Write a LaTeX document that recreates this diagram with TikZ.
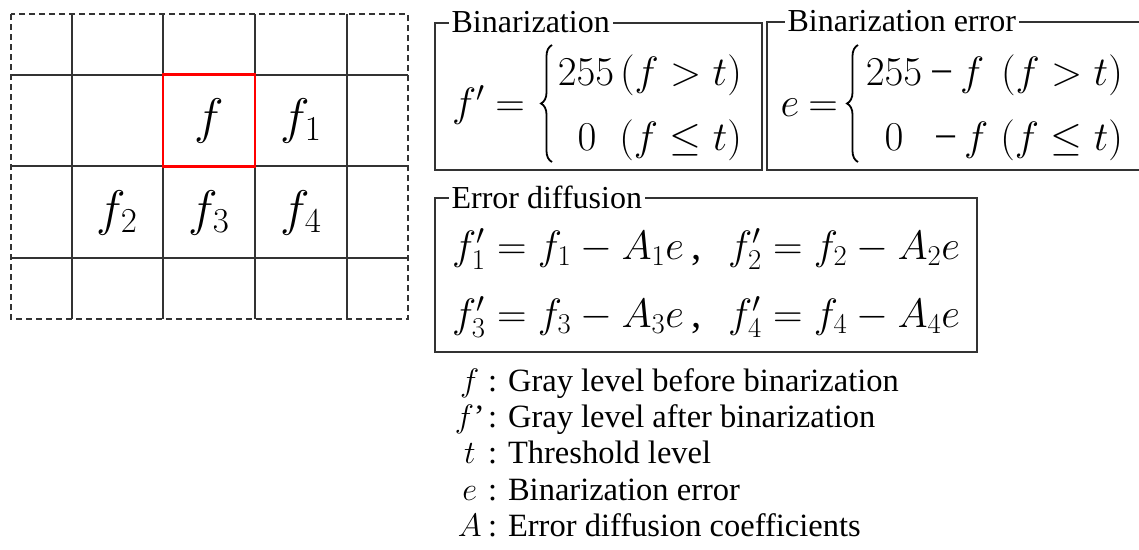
\RequirePackage{fix-cm}
\documentclass[tikz,border=0pt]{standalone}
\usepackage[no-math]{fontspec}
\setmainfont{Liberation Serif}
\usepackage{tikz}
\usetikzlibrary{positioning, decorations.pathreplacing}
\tikzstyle{frame} = [rectangle, draw=black!80, line width=1.3pt, inner sep=0pt]
\tikzstyle{header} = [fill=white, inner xsep=3pt, inner ysep=1pt, anchor=west, font=\fontsize{32}{38}\selectfont]
\tikzstyle{eqn} = [inner sep=0pt, anchor=base, font=\fontsize{41}{48}\selectfont]
\tikzstyle{curly} = [decorate, decoration={brace, amplitude=11pt}, line width=1.8pt]
\tikzstyle{cell} = [rectangle, minimum size=92pt, inner sep=0pt, outer sep=0pt, font=\fontsize{50}{58}\selectfont]
\tikzstyle{gridline} = [black!80, line width=1.3pt]
\tikzstyle{legend} = [inner sep=0pt, text height=25pt, text depth=11pt, font=\fontsize{32.5}{38}\selectfont]
\tikzstyle{legsym} = [legend, minimum width=36pt, align=center]

\begin{document}
\begin{tikzpicture}[x=1pt, y=-1pt]
    \useasboundingbox (0,0) rectangle (1139,549);
    % pixel grid
    \foreach \x in {72,163,255,347} \draw[gridline] (\x,14) -- (\x,319);
    \foreach \y in {75,166,258} \draw[gridline] (11,\y) -- (408,\y);
    \draw[gridline, dash pattern=on 6pt off 4pt] (11,14) rectangle (408,319);
    \node (cur) [cell, draw=red, line width=2.8pt] at (209,120.5) {$f$};
    \node (f1) [cell, right=0pt of cur] {$f_1$};
    \node (f3) [cell, below=0pt of cur] {$f_3$};
    \node (f2) [cell, left=0pt of f3] {$f_2$};
    \node (f4) [cell, right=0pt of f3] {$f_4$};

    % binarization
    \node (binbox) [frame, minimum width=327pt, minimum height=147pt] at (598.5,96.5) {};
    \node (binhd) [header] at ([xshift=14pt]binbox.north west) {Binarization};
    \node (bfp) [eqn, anchor=base west] at (452,116) {$f'$};
    \node (beq) [eqn] at (510,116) {$=$};
    \draw[curly] (552,162) -- (552,45);
    \node (b255) [eqn] at (586,85) {$255$};
    \node (bgt) [eqn, anchor=base east] at (742,85) {$(f>t)$};
    \node (b0) [eqn] at (587,150) {$0$};
    \node (ble) [eqn, anchor=base east] at (742,150) {$(f\le t)$};

    % binarization error
    \node (errbox) [frame, minimum width=380pt, minimum height=148pt] at (957,96) {};
    \node (errhd) [header] at ([xshift=18pt]errbox.north west) {Binarization error};
    \node (ee) [eqn] at (790,116) {$e$};
    \node (eeq) [eqn] at (823,116) {$=$};
    \draw[curly] (858,162) -- (858,45);
    \node (e255) [eqn] at (894,85) {$255$};
    \node (em1) [eqn, anchor=base west] at (930,85) {−\,$f$};
    \node (egt) [eqn, anchor=base east] at (1123,85) {$(f>t)$};
    \node (e0) [eqn] at (894,150) {$0$};
    \node (em2) [eqn, anchor=base west] at (934,150) {−\,$f$};
    \node (ele) [eqn, anchor=base east] at (1123,150) {$(f\le t)$};

    % error diffusion
    \node (difbox) [frame, minimum width=542pt, minimum height=154pt] at (706,275) {};
    \node (difhd) [header] at ([xshift=14pt]difbox.north west) {Error diffusion};
    \node (d1) [eqn, anchor=base west] at (452,259) {$f_1'=f_1-A_1e$};
    \node (c1) [eqn] at (697,259) {,};
    \node (d2) [eqn, anchor=base west] at (728,259) {$f_2'=f_2-A_2e$};
    \node (d3) [eqn, anchor=base west] at (452,327) {$f_3'=f_3-A_3e$};
    \node (c2) [eqn] at (697,327) {,};
    \node (d4) [eqn, anchor=base west] at (728,327) {$f_4'=f_4-A_4e$};

    % legend
    \node (l1) [legend, anchor=base west] at (488,391) {: Gray level before binarization};
    \node (l2) [legend, below=0pt of l1.south west, anchor=north west] {: Gray level after binarization};
    \node (l3) [legend, below=0pt of l2.south west, anchor=north west] {: Threshold level};
    \node (l4) [legend, below=0pt of l3.south west, anchor=north west] {: Binarization error};
    \node (l5) [legend, below=0pt of l4.south west, anchor=north west] {: Error diffusion coefficients};
    \node (s1) [legsym, left=0pt of l1] {$f$};
    \node (s2) [legsym, left=0pt of l2] {$f$’};
    \node (s3) [legsym, left=0pt of l3] {$t$};
    \node (s4) [legsym, left=0pt of l4] {$e$};
    \node (s5) [legsym, left=0pt of l5] {$A$};
\end{tikzpicture}
\end{document}
